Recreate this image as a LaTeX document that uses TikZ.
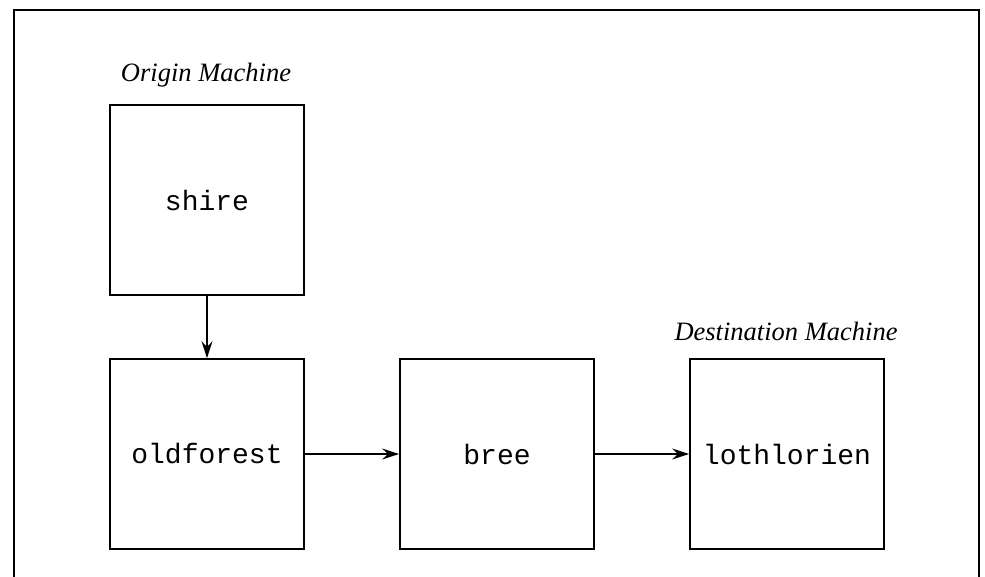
\documentclass[tikz,border=0pt]{standalone}
\usepackage{fontspec}
\setmainfont{Liberation Serif}
\setmonofont{Liberation Mono}
\usetikzlibrary{arrows.meta}
\begin{document}
\begin{tikzpicture}[x=1pt,y=-1pt,
  machine/.style={draw,line width=1.8pt,minimum width=194pt,minimum height=190pt,inner sep=0pt,font=\fontsize{28}{30}\selectfont\ttfamily},
  lbl/.style={font=\fontsize{26.5}{28}\selectfont\itshape,inner sep=0pt},
  conn/.style={line width=1.5pt,-{Stealth[length=17pt,width=11pt,inset=6pt]}}]
\useasboundingbox (0,0) rectangle (985,577);
\draw[line width=1.8pt] (14,577) -- (14,10) -- (979,10) -- (979,577);
\node[machine] (shire) at (207,200) {shire};
\node[machine] (oldforest) at (207,454) {oldforest};
\node[machine] (bree) at (497,454) {bree};
\node[machine] (loth) at (787,454) {lothlorien};
\node[lbl,anchor=base] (origin) at (206,82) {Origin Machine};
\node[lbl,anchor=base] (dest) at (786,340) {Destination Machine};
\draw[conn] (shire) -- (oldforest);
\draw[conn] (oldforest) -- (bree);
\draw[conn] (bree) -- (loth);
\end{tikzpicture}
\end{document}
